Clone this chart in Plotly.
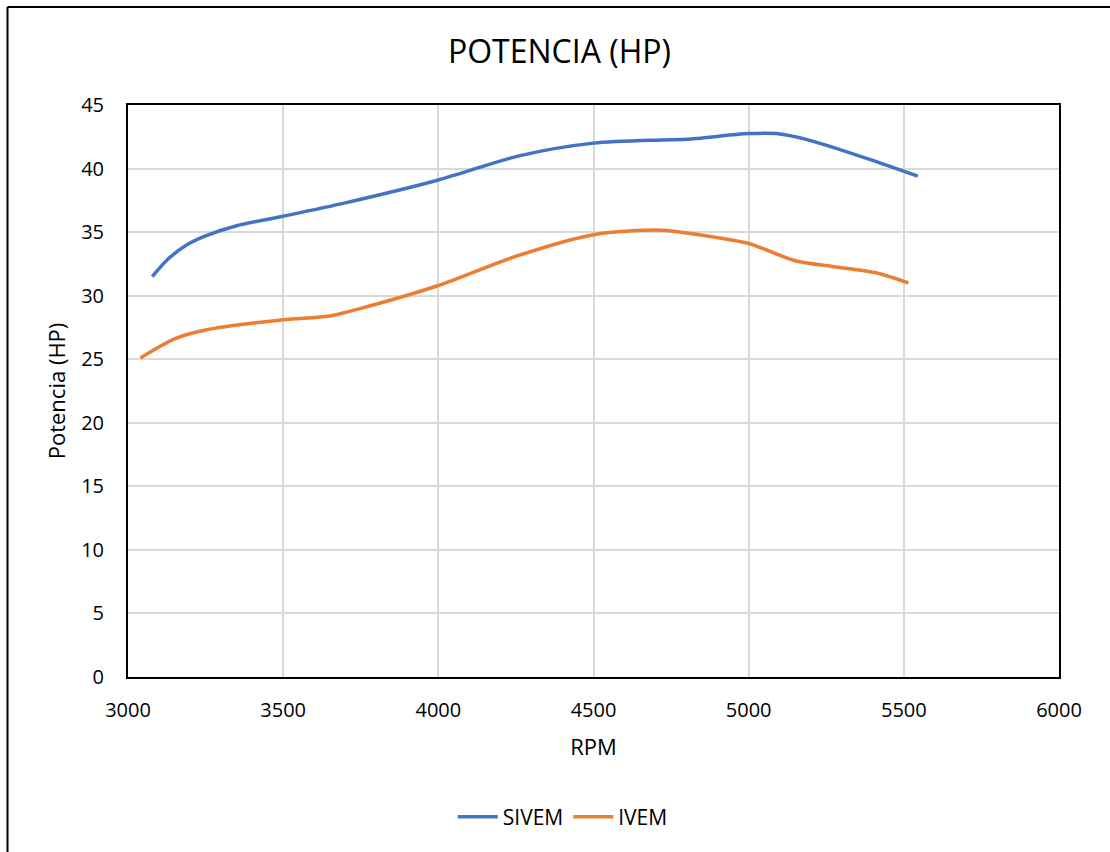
import plotly.graph_objects as go

# Power curves (HP) against engine speed (RPM)
rpm_sivem = [3078, 3130, 3190, 3250, 3350, 3500, 3700, 4000, 4260, 4500, 4720, 4800, 5000, 5090, 5200, 5380, 5545]
hp_sivem = [31.5, 32.9, 34.0, 34.7, 35.5, 36.25, 37.3, 39.1, 41.0, 42.0, 42.25, 42.3, 42.75, 42.75, 42.2, 40.8, 39.4]

rpm_ivem = [3040, 3150, 3250, 3500, 3650, 3750, 4000, 4250, 4500, 4720, 4850, 5000, 5150, 5270, 5410, 5515]
hp_ivem = [25.1, 26.6, 27.3, 28.1, 28.4, 29.0, 30.8, 33.1, 34.8, 35.15, 34.75, 34.1, 32.75, 32.3, 31.8, 31.0]

x_ticks = [3000, 3500, 4000, 4500, 5000, 5500, 6000]
y_ticks = [0, 5, 10, 15, 20, 25, 30, 35, 40, 45]

FONT = "Open Sans"

fig = go.Figure()
fig.add_trace(go.Scatter(
    x=rpm_sivem, y=hp_sivem, name="SIVEM", mode="lines",
    line=dict(color="#4472C4", width=3.5, shape="spline", smoothing=0.8),
))
fig.add_trace(go.Scatter(
    x=rpm_ivem, y=hp_ivem, name="IVEM", mode="lines",
    line=dict(color="#ED7D31", width=3.5, shape="spline", smoothing=0.8),
))

axis_common = dict(
    showgrid=True, gridcolor="#d9d9d9", gridwidth=2,
    showline=True, linecolor="black", linewidth=2, mirror=True,
    zeroline=False, ticks="",
    tickfont=dict(family=FONT, size=20, color="black"),
)

fig.update_layout(
    width=1110, height=852,
    margin=dict(l=128, r=51, t=105, b=175),
    paper_bgcolor="white", plot_bgcolor="white",
    font=dict(family=FONT, color="black"),
    title=dict(
        text="POTENCIA (HP)", x=0.504, xref="container", xanchor="center",
        y=1 - 52 / 852, yref="container", yanchor="middle",
        font=dict(family=FONT, size=32, color="black"),
    ),
    xaxis=dict(
        range=[3000, 6000], tickvals=x_ticks, ticktext=[str(v) for v in x_ticks],
        ticklabelstandoff=14,
        title=dict(text="RPM", font=dict(family=FONT, size=22, color="black"), standoff=18),
        **axis_common,
    ),
    yaxis=dict(
        range=[0, 45], tickvals=y_ticks, ticktext=[str(v) for v in y_ticks],
        ticklabelstandoff=18,
        title=dict(text="Potencia (HP)", font=dict(family=FONT, size=22, color="black"), standoff=9),
        **axis_common,
    ),
    legend=dict(
        orientation="h", xref="container", x=0.507, xanchor="center",
        yref="container", y=1 - 817 / 852, yanchor="middle",
        font=dict(family=FONT, size=21, color="black"),
        itemwidth=40,
    ),
    showlegend=True,
)

# Outer chart frame (left and top edges)
frame_x = -(128 - 7.5) / 931
frame_y = (677 - 7) / 572
fig.add_shape(type="line", xref="paper", yref="paper",
              x0=frame_x, y0=-0.5, x1=frame_x, y1=frame_y,
              line=dict(color="black", width=2))
fig.add_shape(type="line", xref="paper", yref="paper",
              x0=frame_x, y0=frame_y, x1=1.1, y1=frame_y,
              line=dict(color="black", width=2))

fig.write_html("out.html")
